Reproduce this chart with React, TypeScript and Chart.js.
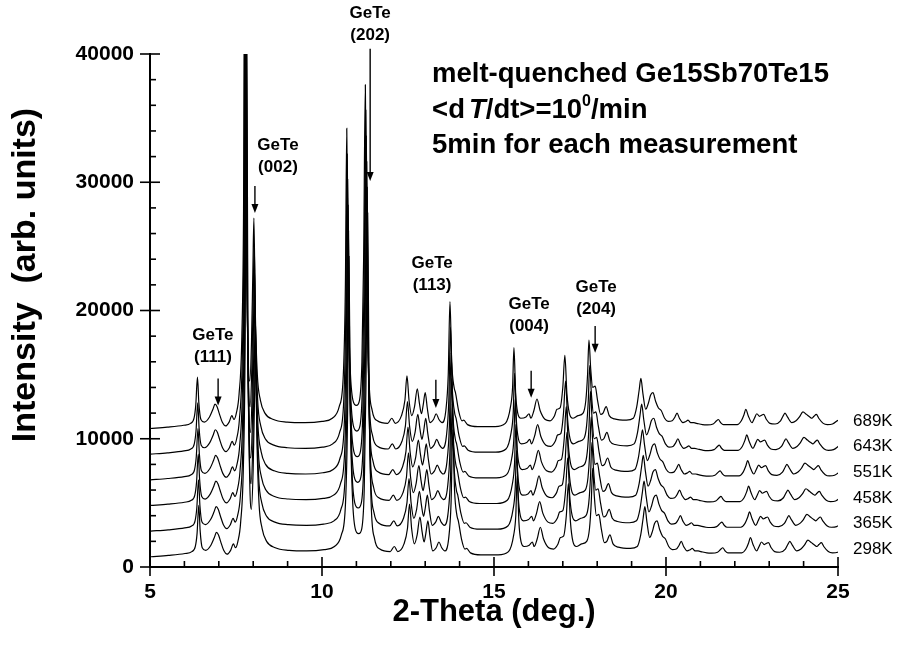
import React, { useEffect, useRef } from 'react';
import { Chart, registerables } from 'chart.js';

Chart.register(...registerables);

// 2-Theta positions (deg.) of the profile read from the top (689K) pattern
const twoTheta = [
  5.0, 5.5, 5.98, 6.18, 6.28, 6.33, 6.38, 6.42, 6.48, 6.58, 6.73, 6.83, 6.89, 6.95, 7.01, 7.1, 7.2, 7.3, 7.38, 7.44,
  7.51, 7.59, 7.67, 7.72, 7.76, 7.8, 7.85, 7.9, 7.95, 7.99, 8.02, 8.06, 8.12, 8.21, 8.34, 8.59, 8.99, 9.5, 10.0, 10.3,
  10.5, 10.62, 10.68, 10.72, 10.76, 10.82, 10.9, 11.0, 11.09, 11.16, 11.21, 11.26, 11.3, 11.36, 11.46, 11.61, 11.91, 12.03, 12.13, 12.31,
  12.41, 12.47, 12.53, 12.61, 12.69, 12.77, 12.83, 12.89, 12.94, 13.0, 13.06, 13.14, 13.24, 13.32, 13.4, 13.49, 13.6, 13.67, 13.72, 13.77,
  13.84, 13.88, 13.97, 14.07, 14.12, 14.23, 14.53, 15.03, 15.33, 15.48, 15.54, 15.58, 15.63, 15.69, 15.78, 15.93, 16.02, 16.07, 16.16, 16.25,
  16.34, 16.49, 16.63, 16.76, 16.83, 16.92, 17.0, 17.06, 17.12, 17.19, 17.29, 17.44, 17.59, 17.67, 17.72, 17.76, 17.81, 17.87, 17.94, 18.01,
  18.1, 18.17, 18.26, 18.35, 18.5, 18.85, 19.05, 19.15, 19.22, 19.27, 19.33, 19.41, 19.49, 19.55, 19.62, 19.7, 19.78, 19.86, 19.96, 20.06,
  20.18, 20.26, 20.32, 20.39, 20.49, 20.58, 20.64, 20.72, 20.81, 20.89, 21.06, 21.2, 21.37, 21.47, 21.52, 21.59, 21.67, 22.07, 22.19, 22.27,
  22.32, 22.39, 22.5, 22.57, 22.64, 22.72, 22.79, 22.84, 22.92, 23.02, 23.17, 23.33, 23.41, 23.46, 23.53, 23.66, 23.78, 23.88, 23.98, 24.08,
  24.18, 24.24, 24.3, 24.37, 24.44, 24.57, 24.69, 24.84, 25.0,
];

// Intensity (arb. units) of the 689K pattern at the positions above
const intensity689K = [
  10800, 10900, 11050, 11200, 11600, 12600, 14800, 12800, 11500, 11300, 11700, 12300, 12700, 12500, 12000, 11300, 11000, 11300, 11800, 11500,
  12000, 13500, 18000, 28000, 55000, 28000, 17000, 14500, 17500, 23000, 27200, 20000, 15000, 13000, 12000, 11500, 11300, 11250, 11350, 11600,
  12500, 15000, 22000, 34200, 22000, 15500, 13000, 12600, 13000, 16000, 24000, 37600, 24000, 15000, 12200, 11400, 11200, 11600, 11200, 11800,
  13000, 14900, 13000, 11800, 12500, 13900, 12800, 11950, 12600, 13600, 12400, 11250, 11500, 11950, 11500, 11250, 12200, 15000, 20700, 16000,
  14000, 13600, 12200, 11400, 11450, 11100, 10950, 10950, 11200, 12500, 14000, 17100, 13500, 12000, 11600, 11700, 11950, 11600, 12200, 13100,
  12200, 11500, 11400, 11800, 12300, 12400, 14000, 16500, 13500, 12000, 11600, 11800, 12000, 13000, 15000, 17700, 15500, 14000, 14100, 13000,
  11900, 12000, 12500, 11800, 11550, 11450, 11600, 12500, 13800, 14700, 13500, 12300, 12800, 13400, 13600, 12900, 12400, 12200, 11600, 11350,
  11400, 11700, 12000, 11600, 11250, 11350, 11450, 11250, 11250, 11200, 11100, 11080, 11150, 11400, 11500, 11250, 11100, 11100, 11400, 11900,
  12300, 11800, 11250, 11600, 11950, 11750, 11850, 11900, 11500, 11200, 11150, 11400, 11800, 12000, 11700, 11250, 11400, 11700, 12100, 11900,
  11700, 11600, 11750, 11900, 11600, 11200, 11100, 11150, 11450,
];

// one pattern per temperature, stacked downwards
const temperatures = ['689K', '643K', '551K', '458K', '365K', '298K'];
const baselineOffsets = [0, -2000, -4000, -6000, -8000, -10000];
const peakShiftFactors = [0, 0.0012, 0.0024, 0.0036, 0.0048, 0.006];

const xTickValues = [5, 10, 15, 20, 25];
const yTickValues = [0, 10000, 20000, 30000, 40000];

// reflection labels
const reflections = ['(111)', '(002)', '(202)', '(113)', '(004)', '(204)'];
const reflectionTextX = [6.83, 8.72, 11.4, 13.2, 16.02, 17.97];
const reflectionTextY = [18100, 32900, 43200, 23700, 20500, 21800];
const arrowX = [6.98, 8.05, 11.4, 13.31, 16.08, 17.94];
const arrowTop = [14700, 29700, 40400, 14600, 15300, 18800];
const arrowTip = [12600, 27600, 30100, 12400, 13200, 16700];

const FONT = '"Liberation Sans", Arial, Helvetica, sans-serif';

const overlayPlugin = {
  id: 'overlay',
  afterDraw(chart: any) {
    const { ctx, chartArea } = chart;
    const xs = chart.scales.x;
    const ys = chart.scales.y;
    ctx.save();
    ctx.strokeStyle = '#000';
    ctx.fillStyle = '#000';
    ctx.lineWidth = 1.6;

    // y ticks: major crossing, minor inside
    for (let v = 0; v <= 40000; v += 2000) {
      const py = ys.getPixelForValue(v);
      const major = v % 10000 === 0;
      ctx.beginPath();
      ctx.moveTo(chartArea.left - (major ? 10 : 0), py);
      ctx.lineTo(chartArea.left + (major ? 10 : 6), py);
      ctx.stroke();
    }
    // x ticks
    for (let v = 5; v <= 25; v += 1) {
      const px = xs.getPixelForValue(v);
      const major = v % 5 === 0;
      ctx.beginPath();
      ctx.moveTo(px, chartArea.bottom + (major ? 9 : 0));
      ctx.lineTo(px, chartArea.bottom - (major ? 10 : 6));
      ctx.stroke();
    }

    // axis titles
    ctx.textAlign = 'center';
    ctx.textBaseline = 'middle';
    ctx.font = `bold 31px ${FONT}`;
    ctx.fillText('2-Theta (deg.)', (chartArea.left + chartArea.right) / 2, 612);
    ctx.save();
    ctx.translate(26, 275);
    ctx.rotate(-Math.PI / 2);
    ctx.font = `bold 34px ${FONT}`;
    ctx.fillText('Intensity  (arb. units)', 0, 0);
    ctx.restore();

    // temperature labels at the right end of each pattern
    ctx.font = `17px ${FONT}`;
    ctx.textAlign = 'left';
    chart.data.datasets.forEach((ds: any, i: number) => {
      const last = ds.data[ds.data.length - 1];
      ctx.fillText(temperatures[i], chartArea.right + 15, ys.getPixelForValue(last.y) + 1);
    });

    // reflection labels and arrows
    ctx.textAlign = 'center';
    ctx.font = `bold 17px ${FONT}`;
    reflections.forEach((r, i) => {
      const tx = xs.getPixelForValue(reflectionTextX[i]);
      const ty = ys.getPixelForValue(reflectionTextY[i]);
      ctx.fillText('GeTe', tx, ty);
      ctx.fillText(r, tx, ty + 22);
      const ax = xs.getPixelForValue(arrowX[i]);
      const a0 = ys.getPixelForValue(arrowTop[i]);
      const a1 = ys.getPixelForValue(arrowTip[i]);
      ctx.lineWidth = 1.4;
      ctx.beginPath();
      ctx.moveTo(ax, a0);
      ctx.lineTo(ax, a1 - 7);
      ctx.stroke();
      ctx.beginPath();
      ctx.moveTo(ax - 3.5, a1 - 9);
      ctx.lineTo(ax + 3.5, a1 - 9);
      ctx.lineTo(ax, a1);
      ctx.closePath();
      ctx.fill();
    });

    // sample description
    const left = xs.getPixelForValue(13.2);
    const big = `bold 27.5px ${FONT}`;
    ctx.textAlign = 'left';
    ctx.font = big;
    ctx.fillText('melt-quenched Ge15Sb70Te15', left, 74);
    let x = left;
    const y2 = 110;
    const seg = (t: string, font: string, dy = 0) => {
      ctx.font = font;
      ctx.fillText(t, x, y2 + dy);
      x += ctx.measureText(t).width;
    };
    seg('<d', big);
    x += 4;
    seg('T', `italic bold 27.5px ${FONT}`);
    seg('/dt>=10', big);
    seg('0', `bold 16px ${FONT}`, -8);
    seg('/min', big);
    ctx.font = big;
    ctx.fillText('5min for each measurement', left, 145);

    ctx.restore();
  },
};

export default function App() {
  const canvasRef = useRef<HTMLCanvasElement | null>(null);

  useEffect(() => {
    const canvas = canvasRef.current;
    if (!canvas) return;
    const datasets = temperatures.map((t, i) => ({
      label: t,
      data: twoTheta.map((x, k) => ({ x: x * (1 + peakShiftFactors[i]), y: intensity689K[k] + baselineOffsets[i] })),
      borderColor: '#000',
      borderWidth: 1.2,
      pointRadius: 0,
      fill: false,
      cubicInterpolationMode: 'monotone' as const,
    }));
    const chart = new Chart(canvas, {
      type: 'line',
      data: { datasets },
      options: {
        animation: false,
        responsive: false,
        devicePixelRatio: 1,
        layout: { padding: { left: 0, top: 54, right: 64, bottom: 0 } },
        plugins: { legend: { display: false }, tooltip: { enabled: false } },
        scales: {
          x: {
            type: 'linear',
            min: 5,
            max: 25,
            afterBuildTicks: (s: any) => { s.ticks = xTickValues.map((v) => ({ value: v })); },
            afterFit: (s: any) => { s.height = 655 - 567; },
            grid: { display: false, drawTicks: false },
            border: { display: true, color: '#000', width: 2 },
            ticks: { color: '#000', font: { family: FONT, size: 21, weight: 'bold' }, padding: 13, maxRotation: 0 },
          },
          y: {
            type: 'linear',
            min: 0,
            max: 40000,
            afterBuildTicks: (s: any) => { s.ticks = yTickValues.map((v) => ({ value: v })); },
            afterFit: (s: any) => { s.width = 150; },
            grid: { display: false, drawTicks: false },
            border: { display: true, color: '#000', width: 2 },
            ticks: { color: '#000', font: { family: FONT, size: 21, weight: 'bold' }, padding: 16, callback: (v: any) => String(v) },
          },
        },
      },
      plugins: [overlayPlugin],
    });
    return () => chart.destroy();
  }, []);

  return (
    <div style={{ position: 'absolute', left: 0, top: 0, width: 902, height: 655, background: '#fff' }}>
      <canvas ref={canvasRef} width={902} height={655} style={{ display: 'block' }} />
    </div>
  );
}
